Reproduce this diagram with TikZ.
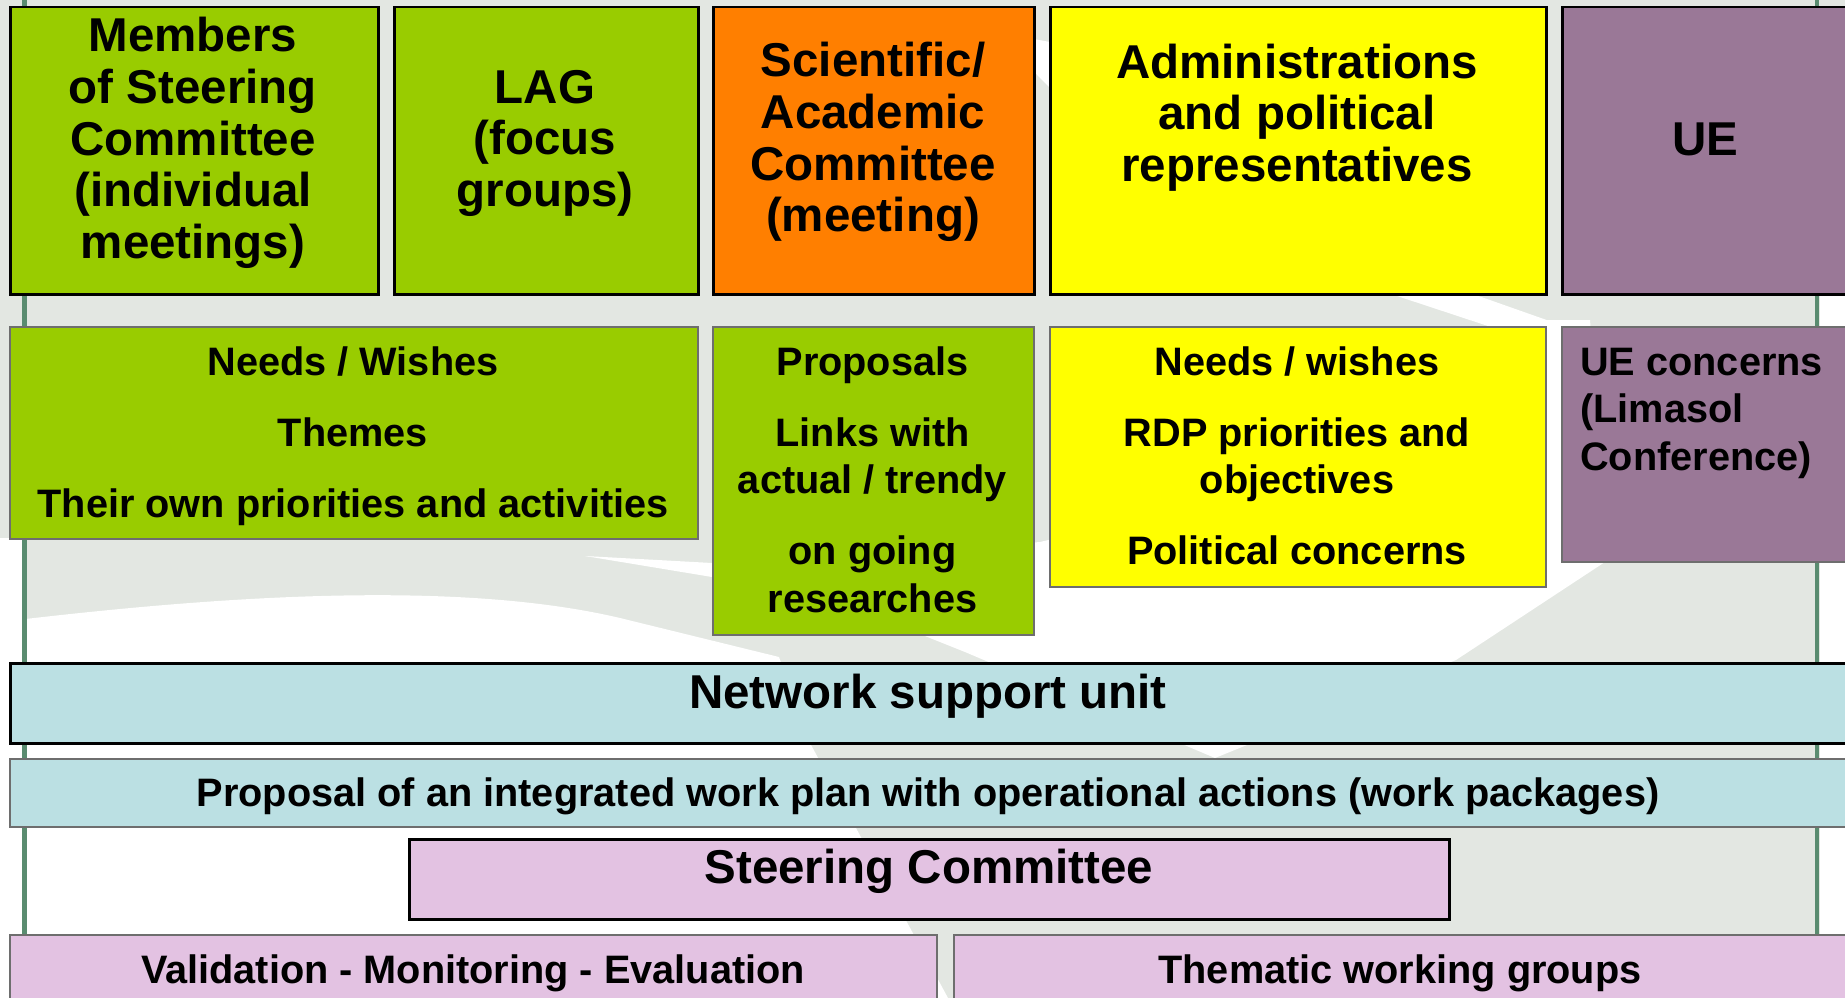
\documentclass[tikz,border=0pt]{standalone}
\usepackage{fontspec}
\setmainfont{Liberation Sans}
\usetikzlibrary{positioning}

\definecolor{leafgreen}{HTML}{99CC00}
\definecolor{sciorange}{HTML}{FF7F00}
\definecolor{admyellow}{HTML}{FFFF00}
\definecolor{uepurple}{HTML}{9A7897}
\definecolor{nsublue}{HTML}{BBE0E3}
\definecolor{scpink}{HTML}{E3C2E2}
\definecolor{wmgray}{HTML}{E3E7E2}
\definecolor{edgegray}{HTML}{6E6E6E}
\definecolor{railgreen}{HTML}{5A8C70}

\newcommand\bigfnt{\fontsize{47.5}{51.7}\selectfont\bfseries}
\newcommand\smallfnt{\fontsize{39.7}{47.5}\selectfont\bfseries}

\begin{document}
\begin{tikzpicture}[x=1pt,y=-1pt,
    box/.style={draw=black, line width=2.5pt, anchor=north west, inner sep=0pt},
    gbox/.style={draw=edgegray, line width=1.5pt, anchor=north west, inner sep=0pt},
    bigt/.style={font=\bigfnt, align=center, anchor=north, inner sep=0pt},
    smallt/.style={font=\smallfnt, align=center, anchor=north, inner sep=0pt},
    rail/.style={draw=railgreen, line width=4.5pt}]
    \def\W{1845}
    \def\H{998}
    \useasboundingbox (0,0) rectangle (\W,\H);
    \clip (0,0) rectangle (\W,\H);

    % watermark behind the boxes
    \fill[wmgray] (0,0) rectangle (\W,\H);
    \fill[white] (0,538) rectangle (22,\H);
    \fill[white] (1820,293) rectangle (\W,\H);
    \fill[white] (0,\H) -- (0,622) .. controls (200,598) and (450,578) .. (620,618)
        -- (779,657) -- (810,743) -- (948,\H) -- cycle;
    \fill[white] (585,556) -- (712,563) -- (712,577) -- cycle;
    \fill[white] (1215,758) -- (965,652) -- (750,566) -- (1040,542) -- (1300,480)
        -- (1545,320) -- (1590,320) -- (1608,560) -- (1456,660) -- cycle;
    \fill[white] (995,32) -- (1050,42) -- (1300,180) -- (1470,293) -- (1575,330)
        -- (1500,330) -- (1388,293) -- (1230,200) -- (1050,88) -- cycle;
    \draw[rail] (24.5,0) -- (24.5,\H);
    \draw[rail] (1817,0) -- (1817,\H);

    % top row
    \node[box, fill=leafgreen, minimum width=368, minimum height=287] (mem) at (9,6) {};
    \node[box, fill=leafgreen, minimum width=304, minimum height=287] (lag) at (393,6) {};
    \node[box, fill=sciorange, minimum width=321, minimum height=287] (sci) at (712,6) {};
    \node[box, fill=admyellow, minimum width=496, minimum height=287] (adm) at (1049,6) {};
    \node[box, fill=uepurple, minimum width=290, minimum height=287] (ue) at (1561,6) {};
    \node[bigt] (memt) at (193,15.5) {\strut Members\\of Steering\\Committee\\(individual\\meetings)};
    \node[bigt] (lagt) at (545,66.8) {\strut LAG\\(focus\\groups)};
    \node[bigt] (scit) at (873,40.5) {\strut Scientific/\\Academic\\Committee\\(meeting)};
    \node[bigt] (admt) at (1297,41.8) {\strut Administrations\\and political\\representatives};
    \node[bigt] (uet) at (1705,118.8) {\strut UE};

    % second row
    \node[gbox, fill=leafgreen, minimum width=688, minimum height=212] (needs) at (9,326) {};
    \node[gbox, fill=leafgreen, minimum width=321, minimum height=308] (prop) at (712,326) {};
    \node[gbox, fill=admyellow, minimum width=496, minimum height=260] (pol) at (1049,326) {};
    \node[gbox, fill=uepurple, minimum width=290, minimum height=235] (uec) at (1561,326) {};
    \node[smallt] (needst) at (353,341.75) {\strut Needs / Wishes\\[23.5pt]Themes\\[23.5pt]Their own priorities and activities};
    \node[smallt] (propt) at (872.5,341.75) {\strut Proposals\\[23.5pt]Links with\\actual / trendy\\[23.5pt]on going\\researches};
    \node[smallt] (polt) at (1297,341.75) {\strut Needs / wishes\\[23.5pt]RDP priorities and\\objectives\\[23.5pt]Political concerns};
    \node[smallt, align=left, anchor=north west] (uect) at (1580,341.75) {\strut UE concerns\\(Limasol\\Conference)};

    % bands
    \node[box, fill=nsublue, minimum width=1842, minimum height=80] (nsu) at (9,662) {};
    \node[gbox, fill=nsublue, minimum width=1842, minimum height=68] (plan) at (9,758) {};
    \node[box, fill=scpink, minimum width=1040, minimum height=80] (sc) at (408,838) {};
    \node[gbox, fill=scpink, minimum width=927, minimum height=80] (val) at (9,934) {};
    \node[gbox, fill=scpink, minimum width=898, minimum height=80] (twg) at (953,934) {};
    \node[font=\bigfnt, anchor=base] (nsut) at (928,708) {Network support unit};
    \node[font=\smallfnt, anchor=base] (plant) at (928,806) {Proposal of an integrated work plan with operational actions (work packages)};
    \node[font=\bigfnt, anchor=base] (sct) at (929,883) {Steering Committee};
    \node[font=\smallfnt, anchor=base] (valt) at (473,983) {Validation - Monitoring - Evaluation};
    \node[font=\smallfnt, anchor=base] (twgt) at (1400,983) {Thematic working groups};
\end{tikzpicture}
\end{document}
